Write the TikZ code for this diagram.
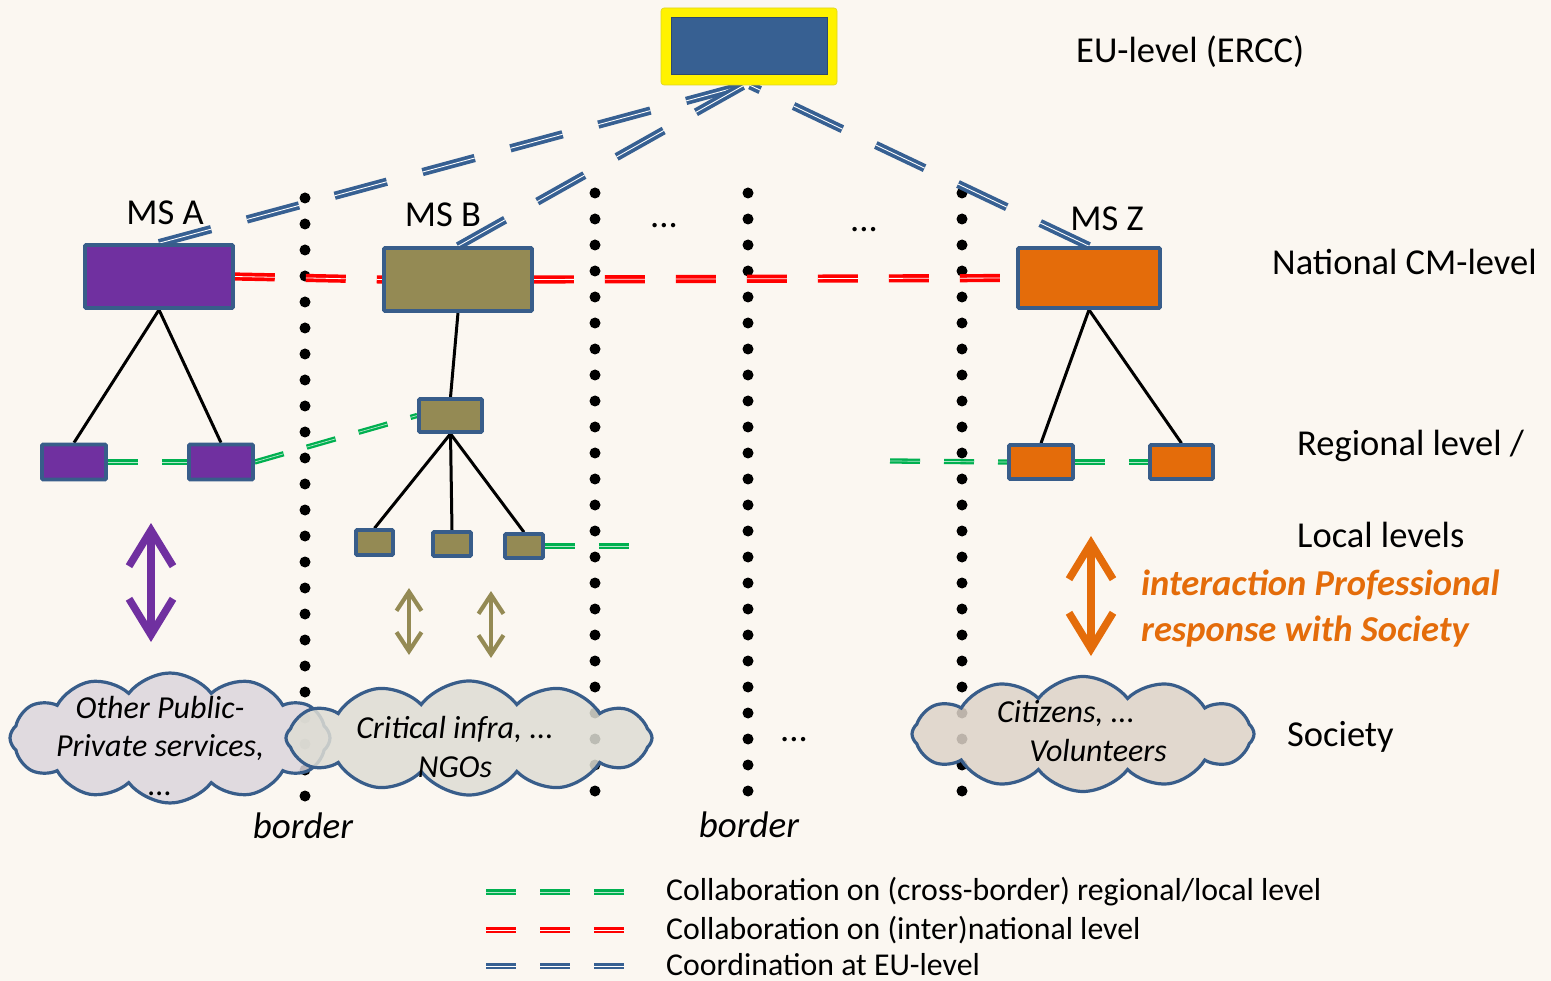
\documentclass[tikz,border=0pt]{standalone}
\usepackage{fontspec}
\setmainfont{Carlito}
\usetikzlibrary{shapes.symbols,arrows.meta}
\pgfdeclarelayer{bg}
\pgfsetlayers{bg,main}
\definecolor{bgc}{RGB}{251,247,241}
\definecolor{boxblue}{RGB}{56,93,138}
\definecolor{eublue}{RGB}{55,96,146}
\definecolor{purp}{RGB}{112,48,160}
\definecolor{olive}{RGB}{148,138,84}
\definecolor{orng}{RGB}{228,108,10}
\definecolor{grn}{RGB}{0,176,80}
\definecolor{cfillA}{RGB}{220,214,220}
\definecolor{cfillB}{RGB}{222,221,212}
\definecolor{cfillC}{RGB}{221,211,200}
\begin{document}
\begin{tikzpicture}[x=1pt,y=-1pt,
  box/.style={draw=boxblue, line width=3.6pt, inner sep=0pt, rounded corners=1pt},
  eulink/.style={draw=eublue, line width=3.7pt, double=white, double distance=0.9pt, dash pattern=on 54pt off 37pt},
  redlink/.style={draw=red, line width=3.7pt, double=white, double distance=0.8pt, dash pattern=on 40pt off 31pt},
  grnlink/.style={draw=grn, line width=2.3pt, double=grn!30!white, double distance=0.7pt, dash pattern=on 30pt off 24pt},
  tree/.style={draw=black, line width=3pt},
  dotline/.style={line width=11pt, line cap=round, dash pattern=on 0pt off 26pt},
  lbl/.style={font=\fontsize{36.5}{42}\selectfont, inner sep=0pt},
  ctext/.style={font=\fontsize{32}{38.5}\selectfont\itshape, inner sep=0pt, align=center},
  lgd/.style={font=\fontsize{31.8}{36}\selectfont, inner sep=0pt, anchor=west},
  cloudsty/.style={cloud, cloud puffs=12, cloud puff arc=105, cloud ignores aspect, draw=boxblue, line width=3.2pt, fill opacity=0.85, inner sep=0pt}
]
\useasboundingbox (0,0) rectangle (1551,981);
\begin{pgfonlayer}{bg}
\fill[bgc] (0,0) rectangle (1551,981);
\end{pgfonlayer}

% EU box
\node[fill=yellow, draw=yellow!85!black, line width=0.6pt, rounded corners=3pt, minimum width=176pt, minimum height=77pt, inner sep=0pt] (eu) at (749,46.5) {};
\node[fill=eublue, draw=boxblue!80!black, line width=1pt, minimum width=156pt, minimum height=57pt, inner sep=0pt] (euin) at (eu.center) {};

% national boxes
\node[box, fill=purp, minimum width=148pt, minimum height=63pt] (msA) at (159,276.5) {};
\node[box, fill=olive, minimum width=148pt, minimum height=63pt] (msB) at (458,279.5) {};
\node[box, fill=orng, minimum width=142pt, minimum height=60pt] (msZ) at (1089,278) {};

% regional / local boxes
\node[box, fill=purp, minimum width=64pt, minimum height=35pt] (rA1) at (74,462) {};
\node[box, fill=purp, minimum width=64pt, minimum height=35pt] (rA2) at (221,462) {};
\node[box, fill=olive, minimum width=63pt, minimum height=33pt] (rB) at (450.5,415.5) {};
\node[box, fill=olive, minimum width=37pt, minimum height=25pt] (lB1) at (374.5,542.5) {};
\node[box, fill=olive, minimum width=38pt, minimum height=24pt] (lB2) at (452,544) {};
\node[box, fill=olive, minimum width=38pt, minimum height=24pt] (lB3) at (524,546) {};
\node[box, fill=orng, minimum width=64pt, minimum height=34pt] (rZ1) at (1041,462) {};
\node[box, fill=orng, minimum width=63pt, minimum height=34pt] (rZ2) at (1181.5,462) {};

% coordinates
\coordinate (d1a) at (305,198); \coordinate (d1b) at (305,798);
\coordinate (d2a) at (595,193); \coordinate (d2b) at (595,792);
\coordinate (d3a) at (748,193); \coordinate (d3b) at (748,792);
\coordinate (d4a) at (962,193); \coordinate (d4b) at (962,792);
\coordinate (gB) at (632,546);
\coordinate (gZ) at (890,461);

\begin{pgfonlayer}{bg}
% borders
\draw[dotline] (d1a) -- (d1b);
\draw[dotline] (d2a) -- (d2b);
\draw[dotline] (d3a) -- (d3b);
\draw[dotline] (d4a) -- (d4b);
% red
\draw[redlink] (msA.east) -- (msB.west);
\draw[redlink] (msB.east) -- (msZ.west);
% EU links
\draw[eulink] (msA.north) -- ([xshift=-5pt]eu.south);
\draw[eulink] (msB.north) -- ([xshift=-5pt]eu.south);
\draw[eulink] (msZ.north) -- ([xshift=1pt]eu.south);
% tree lines
\draw[tree] (msA.south) -- (rA1.north);
\draw[tree] (msA.south) -- (rA2.north);
\draw[tree] (msB.south) -- (rB.north);
\draw[tree] (rB.south) -- (lB1.north);
\draw[tree] (rB.south) -- (lB2.north);
\draw[tree] (rB.south) -- (lB3.north);
\draw[tree] (msZ.south) -- (rZ1.north);
\draw[tree] (msZ.south) -- (rZ2.north);
% green
\draw[grnlink] (rA1.east) -- (rA2.west);
\draw[grnlink] (rA2.east) -- (rB.west);
\draw[grnlink] (lB3.east) -- (gB);
\draw[grnlink] (gZ) -- (rZ1.west);
\draw[grnlink] (rZ1.east) -- (rZ2.west);
\end{pgfonlayer}

% labels
\node[lbl] (lmsA) at (165,213) {MS A};
\node[lbl] (lmsB) at (443,215) {MS B};
\node[lbl] (lmsZ) at (1107,219) {MS Z};
\node[lbl] (dots1) at (664,226) {...};
\node[lbl] (dots2) at (864,230) {...};
\node[lbl] (dots3) at (794,740) {...};
\node[lbl, anchor=west] (eulbl) at (1076,52) {EU-level (ERCC)};
\node[lbl, anchor=west] (natlbl) at (1272,262) {National CM-level};
\node[lbl, anchor=west] (reglbl) at (1297,446) {Regional level /};
\node[lbl, anchor=west] (loclbl) at (1297,535) {Local levels};
\node[lbl, anchor=west] (soclbl) at (1287,737) {Society};
\node[lbl, anchor=west, align=left, text=orng, font=\fontsize{36.5}{46}\selectfont\bfseries\itshape] (intlbl) at (1141,609) {interaction Professional\\response with Society};
\node[lbl, font=\fontsize{37}{40}\selectfont\itshape] (bord1) at (303,826) {border};
\node[lbl, font=\fontsize{37}{40}\selectfont\itshape] (bord2) at (749,825) {border};

% arrows
\coordinate (pa1) at (151,523); \coordinate (pa2) at (151,642);
\coordinate (oa1) at (409,588); \coordinate (oa2) at (409,655);
\coordinate (ob1) at (491,591); \coordinate (ob2) at (491,658);
\coordinate (za1) at (1091,536); \coordinate (za2) at (1091,656);
\draw[purp, line width=7.5pt, {Straight Barb[length=36pt,width=44pt]}-{Straight Barb[length=36pt,width=44pt]}] (pa1) -- (pa2);
\draw[olive, line width=4.2pt, {Straight Barb[length=19pt,width=25pt]}-{Straight Barb[length=19pt,width=25pt]}] (oa1) -- (oa2);
\draw[olive, line width=4.2pt, {Straight Barb[length=19pt,width=25pt]}-{Straight Barb[length=19pt,width=25pt]}] (ob1) -- (ob2);
\draw[orng, line width=7.5pt, {Straight Barb[length=36pt,width=44pt]}-{Straight Barb[length=36pt,width=44pt]}] (za1) -- (za2);

% clouds
\node[cloudsty, fill=cfillA, minimum width=320pt, minimum height=130pt] (c1) at (170,738) {};
\node[cloudsty, fill=cfillB, minimum width=366pt, minimum height=114pt] (c2) at (469,738) {};
\node[cloudsty, fill=cfillC, minimum width=342pt, minimum height=115pt] (c3) at (1083,734) {};
\node[ctext] (c1t) at (160,746) {Other Public-\\Private services,\\...};
\node[ctext] (c2t) at (455,747) {Critical infra, ...\\NGOs};
\node[ctext, anchor=west] (c3ta) at (997,713) {Citizens, ...};
\node[ctext] (c3tb) at (1098,751) {Volunteers};

% legend
\coordinate (lg1a) at (486,892); \coordinate (lg1b) at (624,892);
\coordinate (lg2a) at (486,930); \coordinate (lg2b) at (624,930);
\coordinate (lg3a) at (486,966); \coordinate (lg3b) at (624,966);
\draw[grnlink, line width=2.4pt] (lg1a) -- (lg1b);
\draw[redlink, line width=2.6pt, dash pattern=on 30pt off 24pt] (lg2a) -- (lg2b);
\draw[eulink, line width=2.6pt, dash pattern=on 30pt off 24pt] (lg3a) -- (lg3b);
\node[lgd] (lg1t) at (666,892) {Collaboration on (cross-border) regional/local level};
\node[lgd] (lg2t) at (666,930) {Collaboration on (inter)national level};
\node[lgd] (lg3t) at (666,965) {Coordination at EU-level};
\end{tikzpicture}
\end{document}
